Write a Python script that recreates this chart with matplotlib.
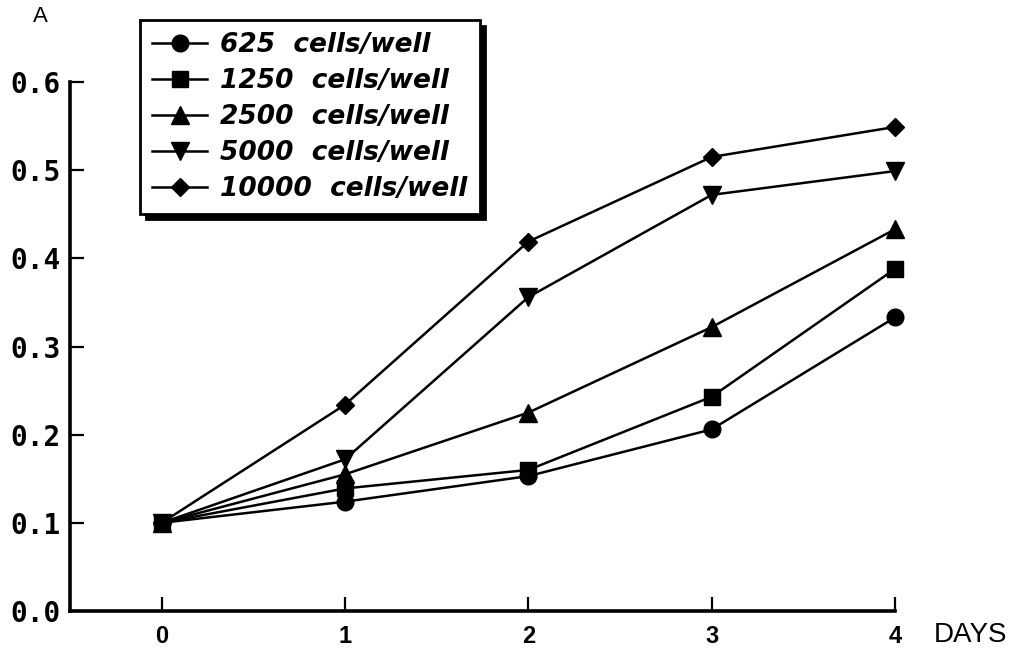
import matplotlib
matplotlib.use("Agg")
import matplotlib.pyplot as plt

days = [0, 1, 2, 3, 4]
labels = ["625  cells/well", "1250  cells/well", "2500  cells/well",
          "5000  cells/well", "10000  cells/well"]
markers = ["o", "s", "^", "v", "D"]
v625 = [0.100, 0.124, 0.153, 0.206, 0.333]
v1250 = [0.100, 0.139, 0.160, 0.243, 0.388]
v2500 = [0.100, 0.155, 0.225, 0.322, 0.433]
v5000 = [0.100, 0.172, 0.356, 0.472, 0.499]
v10000 = [0.100, 0.234, 0.419, 0.515, 0.549]
series = [v625, v1250, v2500, v5000, v10000]
yticks = [0.0, 0.1, 0.2, 0.3, 0.4, 0.5, 0.6]
ytick_labels = ["0.0", "0.1", "0.2", "0.3", "0.4", "0.5", "0.6"]

W, H = 1019, 653
fig = plt.figure(figsize=(W / 100, H / 100), dpi=100)
ax = fig.add_axes([70 / W, 1 - 611 / H, (895 - 70) / W, (611 - 82) / H])

msizes = {"o": 12, "s": 11.5, "^": 13, "v": 13, "D": 9}
for vals, lab, m in zip(series, labels, markers):
    ax.plot(days, vals, color="black", lw=1.8, marker=m, ms=msizes[m],
            mfc="black", mec="black", label=lab, clip_on=False, zorder=3)

ax.set_xlim(-0.5, 4.0)
ax.set_ylim(0.0, 0.6)
ax.set_xticks(days)
ax.set_xticklabels([str(d) for d in days], fontsize=17, fontfamily="Liberation Sans",
                   fontweight="bold")
ax.set_yticks(yticks)
ax.set_yticklabels(ytick_labels, fontsize=20, fontfamily="DejaVu Sans Mono",
                   fontweight="bold")
ax.tick_params(direction="in", length=10, width=1.6)
ax.tick_params(axis="y", pad=7)
ax.tick_params(axis="x", pad=10)
for s in ["top", "right"]:
    ax.spines[s].set_visible(False)
for s in ["left", "bottom"]:
    ax.spines[s].set_linewidth(2.6)

fig.text(40 / W, 1 - 16 / H, "A", fontsize=16, fontfamily="Liberation Sans",
         ha="center", va="center")
fig.text(934 / W, 1 - 635 / H, "DAYS", fontsize=20, fontfamily="Liberation Sans",
         ha="left", va="center")

leg = ax.legend(loc="upper left", bbox_to_anchor=(140 / W, 1 - 20 / H),
                bbox_transform=fig.transFigure, frameon=True, fancybox=False,
                shadow={"color": "black", "alpha": 1.0, "ox": 4, "oy": -4},
                handlelength=2.1, borderpad=0.45, labelspacing=0.38,
                handletextpad=0.5, borderaxespad=0,
                prop={"family": "DejaVu Sans", "style": "italic",
                      "weight": "bold", "size": 19})
leg.get_frame().set_edgecolor("black")
leg.get_frame().set_linewidth(2.0)

fig.savefig("out.png", dpi=100)
